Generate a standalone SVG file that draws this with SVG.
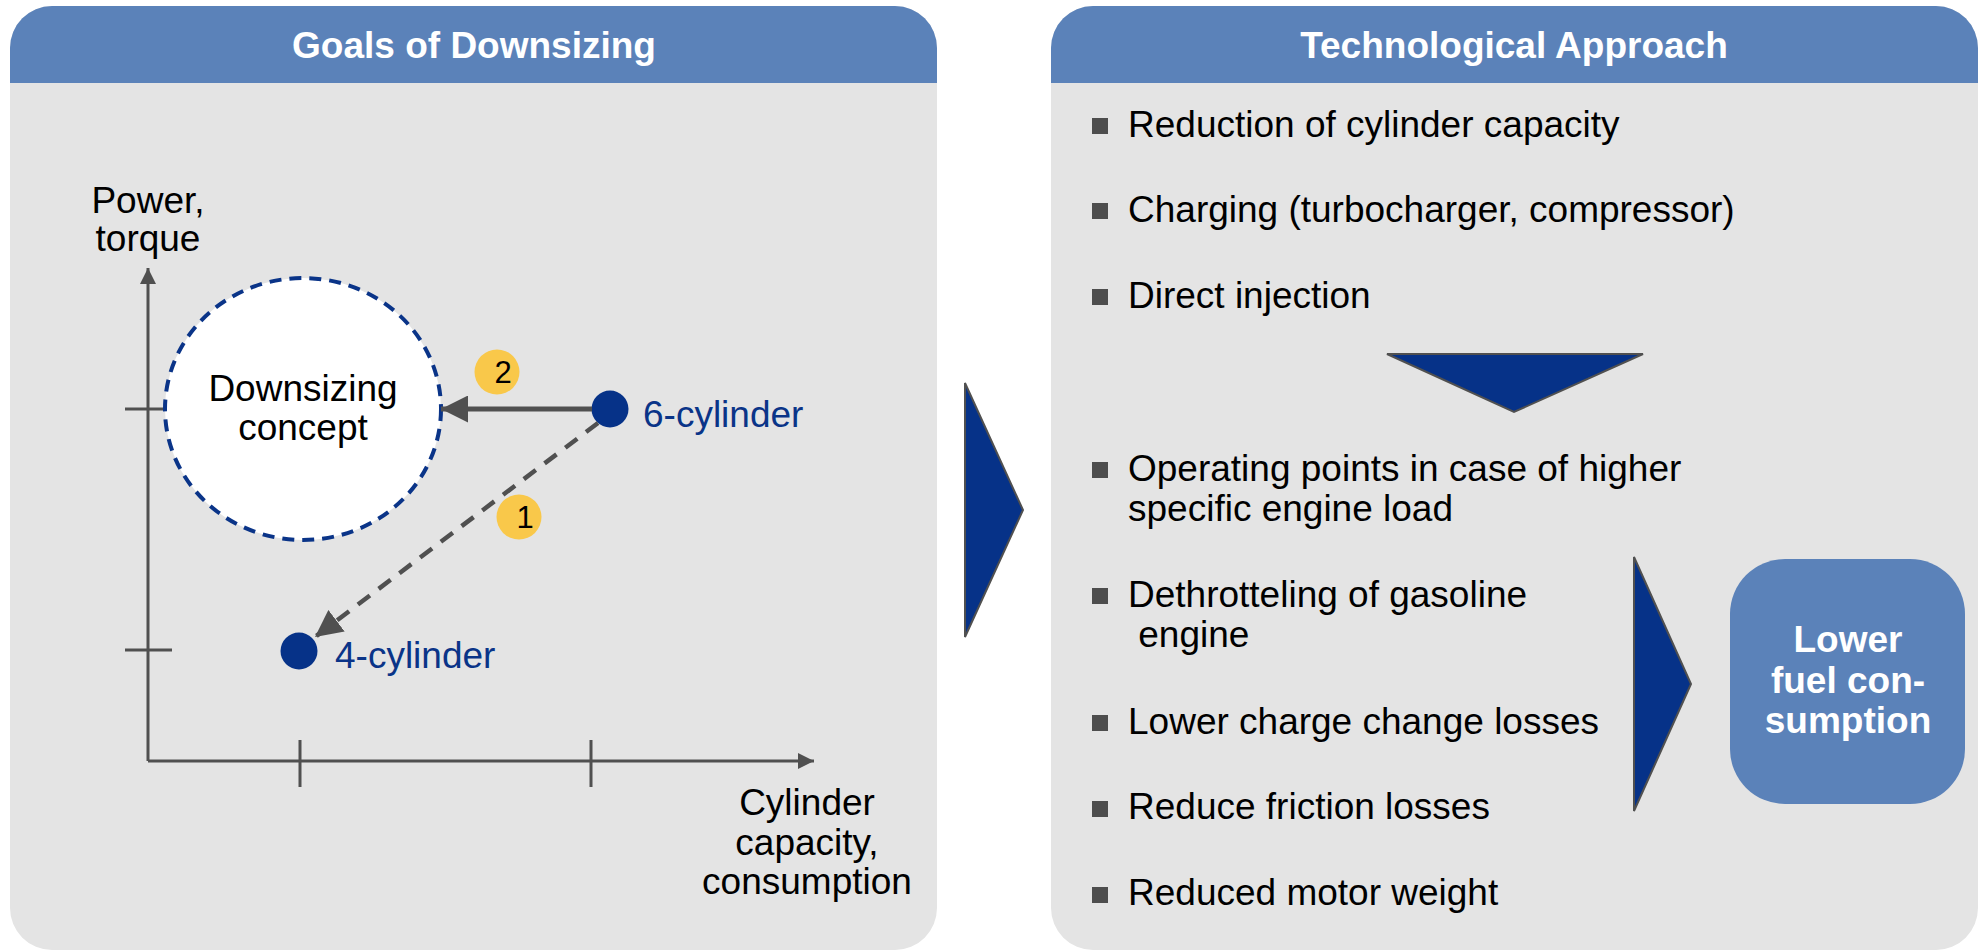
<svg xmlns="http://www.w3.org/2000/svg" width="1980" height="950" viewBox="0 0 1980 950">
<defs>
<style>
.txt{font-family:"Liberation Sans",Arial,sans-serif;font-size:37px;fill:#000}
.hdr{font-family:"Liberation Sans",Arial,sans-serif;font-size:37px;font-weight:bold;fill:#fff}
.blue{fill:#0a3488}
.panel{fill:#e4e4e4}
.head{fill:#5b82b9}
.bul{fill:#4d4d4d}
.axis{stroke:#505050;stroke-width:3;fill:none}
.chev{fill:#063288;stroke:#505050;stroke-width:2}
.dot{fill:#063288}
.badge{fill:#f9c84a}
.num{font-family:"Liberation Sans",Arial,sans-serif;font-size:31px;fill:#000}
</style>
<marker id="ahSmall" viewBox="0 0 16 16" markerWidth="16" markerHeight="16" markerUnits="userSpaceOnUse" refX="16" refY="8" orient="auto">
<path d="M0,0 L16,8 L0,16 Z" fill="#505050"/>
</marker>
<marker id="ahBig" viewBox="0 0 27 27" markerWidth="27" markerHeight="27" markerUnits="userSpaceOnUse" refX="27" refY="13.5" orient="auto">
<path d="M0,0 L27,13.5 L0,27 Z" fill="#505050"/>
</marker>
</defs>
<rect width="1980" height="950" fill="#fff"/>

<g id="panel-goals">
<rect class="panel" x="10" y="6" width="927" height="944" rx="42"/>
<path class="head" d="M10,83 V48 A42,42 0 0 1 52,6 H895 A42,42 0 0 1 937,48 V83 Z"/>
<text class="hdr" x="474" y="58" text-anchor="middle">Goals of Downsizing</text>
</g>

<g id="panel-approach">
<rect class="panel" x="1051" y="6" width="927" height="944" rx="42"/>
<path class="head" d="M1051,83 V48 A42,42 0 0 1 1093,6 H1936 A42,42 0 0 1 1978,48 V83 Z"/>
<text class="hdr" x="1514" y="58" text-anchor="middle">Technological Approach</text>
</g>

<g id="axes">
<line class="axis" x1="148" y1="761" x2="148" y2="268" marker-end="url(#ahSmall)"/>
<line class="axis" x1="148" y1="761" x2="814" y2="761" marker-end="url(#ahSmall)"/>
<line class="axis" x1="125" y1="409" x2="172" y2="409"/>
<line class="axis" x1="125" y1="650" x2="172" y2="650"/>
<line class="axis" x1="300" y1="740" x2="300" y2="787"/>
<line class="axis" x1="591" y1="740" x2="591" y2="787"/>
<text class="txt" x="148" y="213" text-anchor="middle">Power,</text>
<text class="txt" x="148" y="251" text-anchor="middle">torque</text>
<text class="txt" x="807" y="815" text-anchor="middle">Cylinder</text>
<text class="txt" x="807" y="855" text-anchor="middle">capacity,</text>
<text class="txt" x="807" y="894" text-anchor="middle">consumption</text>
</g>

<g id="node-concept">
<ellipse cx="303" cy="409" rx="138" ry="131" fill="#fff" stroke="#0a3488" stroke-width="4" stroke-dasharray="12 8"/>
<text class="txt" x="303" y="401" text-anchor="middle">Downsizing</text>
<text class="txt" x="303" y="440" text-anchor="middle">concept</text>
</g>

<g id="node-6cyl">
<circle class="dot" cx="610" cy="409" r="18.5"/>
<text class="txt blue" x="643" y="427">6-cylinder</text>
</g>

<g id="node-4cyl">
<circle class="dot" cx="299" cy="651" r="18.5"/>
<text class="txt blue" x="335" y="668">4-cylinder</text>
</g>

<g id="connectors">
<line x1="592" y1="409" x2="441" y2="409" stroke="#505050" stroke-width="5" marker-end="url(#ahBig)"/>
<line x1="598" y1="423" x2="315" y2="637" stroke="#505050" stroke-width="4.5" stroke-dasharray="15 11" marker-end="url(#ahBig)"/>
</g>

<g id="badge-2">
<circle class="badge" cx="497" cy="372" r="22.5"/>
<text class="num" x="503" y="383" text-anchor="middle">2</text>
</g>
<g id="badge-1">
<circle class="badge" cx="519" cy="517" r="22.5"/>
<text class="num" x="525" y="528" text-anchor="middle">1</text>
</g>

<g id="chevron-main">
<polygon class="chev" points="965,383 1023,510 965,637"/>
</g>

<g id="list-top">
<rect class="bul" x="1092" y="118" width="16" height="16"/>
<text class="txt" x="1128" y="137">Reduction of cylinder capacity</text>
<rect class="bul" x="1092" y="203" width="16" height="16"/>
<text class="txt" x="1128" y="222">Charging (turbocharger, compressor)</text>
<rect class="bul" x="1092" y="289" width="16" height="16"/>
<text class="txt" x="1128" y="308">Direct injection</text>
</g>

<g id="chevron-down">
<polygon class="chev" points="1387,354 1643,354 1514,412"/>
</g>

<g id="list-bottom">
<rect class="bul" x="1092" y="462" width="16" height="16"/>
<text class="txt" x="1128" y="481">Operating points in case of higher</text>
<text class="txt" x="1128" y="521">specific engine load</text>
<rect class="bul" x="1092" y="588" width="16" height="16"/>
<text class="txt" x="1128" y="607">Dethrotteling of gasoline</text>
<text class="txt" x="1128" y="647" xml:space="preserve"> engine</text>
<rect class="bul" x="1092" y="715" width="16" height="16"/>
<text class="txt" x="1128" y="734">Lower charge change losses</text>
<rect class="bul" x="1092" y="801" width="16" height="16"/>
<text class="txt" x="1128" y="819">Reduce friction losses</text>
<rect class="bul" x="1092" y="887" width="16" height="16"/>
<text class="txt" x="1128" y="905">Reduced motor weight</text>
</g>

<g id="chevron-right">
<polygon class="chev" points="1634,557 1691,684 1634,811"/>
</g>

<g id="node-result">
<rect class="head" x="1730" y="559" width="235" height="245" rx="55"/>
<text class="hdr" x="1848" y="652" text-anchor="middle">Lower</text>
<text class="hdr" x="1848" y="693" text-anchor="middle">fuel con-</text>
<text class="hdr" x="1848" y="733" text-anchor="middle">sumption</text>
</g>
</svg>
